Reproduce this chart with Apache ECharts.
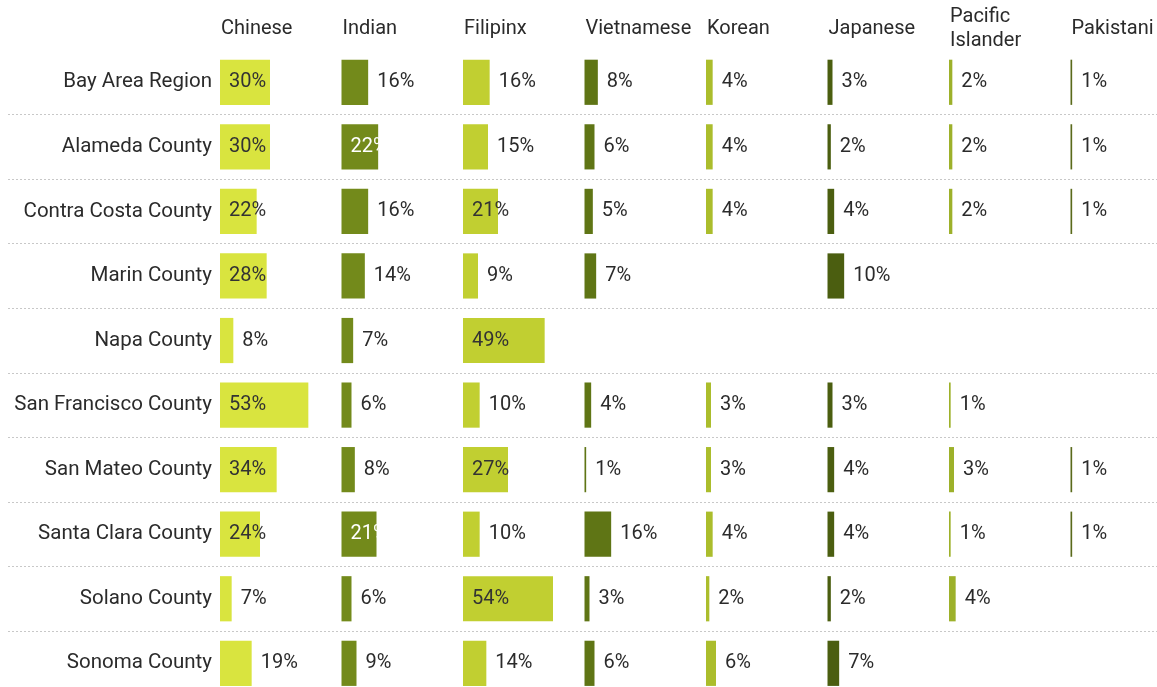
<!DOCTYPE html>
<html>
<head>
<meta charset="utf-8">
<script src="https://cdn.jsdelivr.net/npm/echarts@6/dist/echarts.min.js"></script>
<style>
html,body{margin:0;padding:0;background:#fff;}
#chart{width:1157px;height:687px;}
</style>
</head>
<body>
<div id="chart"></div>
<script>
// ---- data ----
const regions = ['Bay Area Region','Alameda County','Contra Costa County','Marin County','Napa County','San Francisco County','San Mateo County','Santa Clara County','Solano County','Sonoma County'];
const groups = ['Chinese','Indian','Filipinx','Vietnamese','Korean','Japanese','Pacific\nIslander','Pakistani'];
const chinese    = [30,30,22,28,8,53,34,24,7,19];
const indian     = [16,22,16,14,7,6,8,21,6,9];
const filipinx   = [16,15,21,9,49,10,27,10,54,14];
const vietnamese = [8,6,5,7,null,4,1,16,3,6];
const korean     = [4,4,4,null,null,3,3,4,2,6];
const japanese   = [3,2,4,10,null,3,4,4,2,7];
const pacific    = [2,2,2,null,null,1,3,1,4,null];
const pakistani  = [1,1,1,null,null,null,1,1,null,null];
const values = [chinese, indian, filipinx, vietnamese, korean, japanese, pacific, pakistani];

// ---- styles / layout ----
const colors = ['#d9e43f','#738a1b','#c1cf31','#5f7515','#abbd2c','#4b5e10','#9db12a','#5a6a1c'];
const insideText = ['#333','#fff','#333','#fff','#333','#fff','#333','#fff'];
const FONT = 'Roboto';
const FS = 20;
const colStart = 220, colStep = 121.5, colW = 100, axisMax = 60;
const top0 = 50, band = 64.56;

const grids = [], xAxes = [], yAxes = [], series = [], titles = [];
groups.forEach((g, i) => {
  grids.push({left: colStart + i*colStep, width: colW, top: top0, height: band*regions.length, outerBoundsMode:'none', containLabel:false});
  xAxes.push({type:'value', gridIndex:i, min:0, max:axisMax, show:false});
  yAxes.push({
    type:'category', gridIndex:i, data:regions, inverse:true,
    axisLine:{show:false}, axisTick:{show:false}, splitLine:{show:false},
    axisLabel:{show: i===0, color:'#2b2b2b', fontFamily:FONT, fontSize:20.5, margin:8}
  });
  series.push({
    type:'bar', xAxisIndex:i, yAxisIndex:i, barWidth:'70%',
    itemStyle:{color:colors[i]},
    data: values[i].map(v => v == null ? '-' : {
      value: v,
      label: v >= 20
        ? {position:'insideLeft', distance:9, color:insideText[i]}
        : {position:'right', distance:9, color:'#2b2b2b'}
    }),
    label:{show:true, formatter:'{c}%', fontFamily:FONT, fontSize:FS},
    silent:true, animation:false
  });
  const lines = g.split('\n').length;
  titles.push({
    text:g, left: colStart + i*colStep + 1, top: 29 - lines*12, padding:0,
    textStyle:{color:'#2b2b2b', fontFamily:FONT, fontSize:FS, fontWeight:'normal', lineHeight:24}
  });
});

// separator grid (dotted lines between rows)
const sepIdx = groups.length;
grids.push({left:8, right:0, top: top0 + band, height: band*(regions.length-1), outerBoundsMode:'none', containLabel:false});
xAxes.push({type:'value', gridIndex:sepIdx, show:false, min:0, max:1});
yAxes.push({
  type:'value', gridIndex:sepIdx, inverse:true, min:1, max:regions.length, interval:1,
  axisLine:{show:false}, axisTick:{show:false}, axisLabel:{show:false},
  splitLine:{show:true, lineStyle:{color:'#c8c8c8', type:[2,2], width:1}}
});

const chart = echarts.init(document.getElementById('chart'), null, {renderer:'canvas'});
chart.setOption({
  animation:false,
  backgroundColor:'#fff',
  title: titles,
  grid: grids,
  xAxis: xAxes,
  yAxis: yAxes,
  series: series
});
</script>
</body>
</html>
